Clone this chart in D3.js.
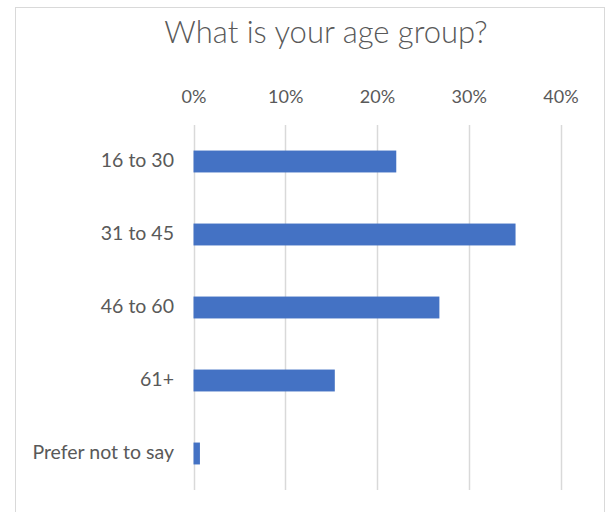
<!DOCTYPE html>
<html>
<head>
<meta charset="utf-8">
<script src="https://cdn.jsdelivr.net/npm/d3@7"></script>
<style>
  body { margin: 0; background: #fff; }
  text { font-family: Lato, "Open Sans", sans-serif; fill: #595959; }
</style>
</head>
<body>
<svg id="chart" width="607" height="512"></svg>
<script>
// age groups and share of respondents
var categories = ["16 to 30", "31 to 45", "46 to 60", "61+", "Prefer not to say"];
var shares = [22.1, 35.1, 26.8, 15.4, 0.7];
var tickValues = [0, 10, 20, 30, 40];
var title = "What is your age group?";

var svg = d3.select("#chart");

// chart frame
svg.append("rect")
    .attr("x", 15.5).attr("y", 7.5)
    .attr("width", 589).attr("height", 520)
    .attr("fill", "#fff")
    .attr("stroke", "#d9d9d9");

var plot = { left: 193.5, right: 560.5, top: 125, bottom: 490 };

var x = d3.scaleLinear()
    .domain([0, 40])
    .range([plot.left, plot.right]);

var y = d3.scaleBand()
    .domain(categories)
    .range([plot.top, plot.bottom])
    .paddingInner(0.7)
    .paddingOuter(0.35);

// gridlines
svg.append("g")
    .selectAll("line")
    .data(tickValues)
    .join("line")
    .attr("x1", d => Math.round(x(d)) + 0.5)
    .attr("x2", d => Math.round(x(d)) + 0.5)
    .attr("y1", plot.top)
    .attr("y2", plot.bottom)
    .attr("stroke", "#d9d9d9")
    .attr("stroke-width", 1.5);

// top axis labels
var xAxis = svg.append("g")
    .attr("transform", "translate(0,103)")
    .call(d3.axisTop(x).tickValues(tickValues).tickFormat(d => d + "%").tickSize(0).tickPadding(0));
xAxis.select(".domain").remove();
xAxis.selectAll("text")
    .attr("font-size", 18)
    .attr("fill", "#595959")
    .attr("font-family", "Lato, sans-serif")
    .attr("dy", 0);

// category labels
var yAxis = svg.append("g")
    .attr("transform", "translate(" + 174 + ",0)")
    .call(d3.axisLeft(y).tickSize(0).tickPadding(0));
yAxis.select(".domain").remove();
yAxis.selectAll("text")
    .attr("font-size", 19.5)
    .attr("fill", "#595959")
    .attr("font-family", "Lato, sans-serif")
    .attr("dy", "0.3em");

// bars
svg.append("g")
    .selectAll("rect")
    .data(shares)
    .join("rect")
    .attr("x", x(0))
    .attr("y", (d, i) => y(categories[i]))
    .attr("width", d => x(d) - x(0))
    .attr("height", y.bandwidth())
    .attr("fill", "#4472c4");

// title
svg.append("text")
    .attr("x", 326)
    .attr("y", 43)
    .attr("text-anchor", "middle")
    .attr("font-size", 31)
    .attr("font-weight", 300)
    .text(title);
</script>
</body>
</html>
